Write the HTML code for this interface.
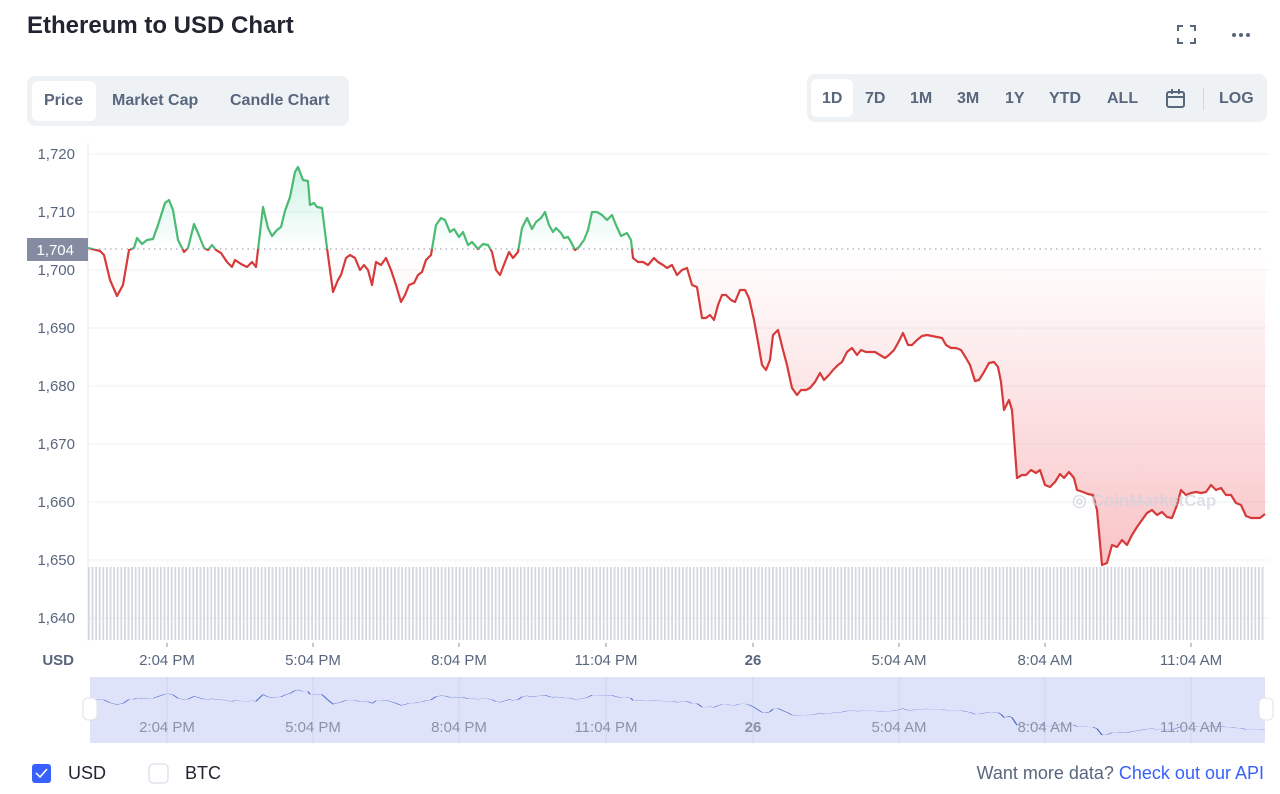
<!DOCTYPE html>
<html><head><meta charset="utf-8"><style>
body{margin:0;width:1280px;height:794px;background:#fff;font-family:"Liberation Sans",sans-serif;position:relative;overflow:hidden;color:#222531}
.a{position:absolute;white-space:nowrap}
.tab{position:absolute;top:76px;height:50px;background:#eff2f5;border-radius:8px}
.t{position:absolute;font-size:16px;color:#58667e;font-weight:bold}
</style></head><body>
<div class="a" style="left:27px;top:12px;font-size:24px;font-weight:bold;color:#222531">Ethereum to USD Chart</div>
<svg class="a" style="left:1176px;top:24px" width="80" height="22"><path d="M2 7V2h5M14 2h5v5M19 14v5h-5M7 19H2v-5" stroke="#58667e" stroke-width="2" fill="none"/><circle cx="58" cy="11" r="2" fill="#58667e"/><circle cx="65" cy="11" r="2" fill="#58667e"/><circle cx="72" cy="11" r="2" fill="#58667e"/></svg>
<div class="tab" style="left:27px;width:322px"></div>
<div class="a" style="left:32px;top:81px;width:64px;height:40px;background:#fff;border-radius:6px"></div>
<div class="t" style="left:44px;top:92px;color:#58667e">Price</div>
<div class="t" style="left:112px;top:92px">Market Cap</div>
<div class="t" style="left:230px;top:92px">Candle Chart</div>
<div class="tab" style="left:807px;top:74px;width:460px;height:48px"></div>
<div class="a" style="left:811px;top:79px;width:42px;height:38px;background:#fff;border-radius:6px"></div>
<div class="t" style="left:822px;top:90px">1D</div>
<div class="t" style="left:865px;top:90px">7D</div>
<div class="t" style="left:910px;top:90px">1M</div>
<div class="t" style="left:957px;top:90px">3M</div>
<div class="t" style="left:1005px;top:90px">1Y</div>
<div class="t" style="left:1049px;top:90px">YTD</div>
<div class="t" style="left:1107px;top:90px">ALL</div>
<svg class="a" style="left:1165px;top:88px" width="22" height="22"><rect x="2" y="4" width="17" height="15" rx="2" stroke="#58667e" stroke-width="2" fill="none"/><path d="M2 9h17M7 1v5M14 1v5" stroke="#58667e" stroke-width="2"/></svg>
<div class="a" style="left:1203px;top:88px;width:1px;height:22px;background:#cfd6e4"></div>
<div class="t" style="left:1219px;top:90px">LOG</div>

<svg class="a" style="left:0;top:0" width="1280" height="794">
<defs>
<polyline id="p" points="88,248 100,251 104,255 110,280 117,296 123,285 129,250 134,248 137,238 142,244 147,240 153,239 158,225 165,203 169,200 173,210 178,240 184,252 188,248 194,224 198,233 204,248 208,250 212,245 216,250 221,253 227,262 232,267 235,260 241,264 247,267 252,262 256,267 263,207 268,228 272,236 277,230 281,227 285,211 290,197 295,172 298,167 303,180 308,181 310,205 314,203 317,207 322,208 327,248 333,292 338,280 341,275 346,258 350,255 355,258 360,270 364,265 368,270 372,285 376,262 381,265 386,258 391,270 396,285 401,302 405,295 409,285 414,283 418,275 422,272 426,260 431,255 436,225 441,218 445,220 450,232 454,229 459,237 463,232 468,245 472,242 478,249 483,244 488,245 492,252 496,270 500,275 505,262 509,252 513,258 518,252 522,228 527,218 532,229 536,222 541,218 545,212 549,225 553,232 556,228 561,233 564,238 568,237 571,242 575,250 579,247 584,240 588,230 592,212 597,212 602,215 607,220 612,215 616,225 621,236 627,233 631,240 633,258 638,262 643,262 648,265 654,258 658,262 663,265 667,268 672,265 677,275 682,270 687,268 692,285 697,287 702,318 706,318 710,315 714,320 718,305 722,295 726,295 731,300 735,302 740,290 745,290 749,298 754,320 758,342 762,365 766,370 770,360 773,335 778,330 783,350 787,365 792,388 797,395 801,390 806,390 810,388 815,382 820,373 824,380 829,375 833,370 838,365 842,362 847,352 852,348 857,355 861,350 866,352 870,352 875,352 880,355 885,358 889,355 894,350 898,343 903,333 908,345 912,345 917,340 922,336 927,335 932,336 937,337 942,338 946,345 951,348 956,348 961,350 966,358 970,365 975,381 979,380 984,372 989,363 994,362 998,367 1001,382 1004,410 1009,400 1012,410 1017,478 1022,475 1026,475 1031,470 1036,473 1040,470 1045,485 1050,487 1055,482 1060,474 1064,478 1069,472 1074,478 1077,490 1083,492 1088,494 1093,495 1097,510 1102,565 1107,563 1112,545 1117,547 1122,540 1127,545 1132,535 1137,527 1142,520 1147,513 1152,510 1157,515 1162,512 1167,517 1172,518 1177,505 1181,490 1186,495 1191,493 1196,492 1201,493 1206,492 1211,485 1216,490 1221,488 1226,495 1231,495 1236,503 1241,505 1246,516 1251,518 1256,518 1260,518 1265,514"/>
<clipPath id="up"><rect x="88" y="140" width="1180" height="109"/></clipPath>
<clipPath id="dn"><rect x="88" y="249" width="1180" height="330"/></clipPath>
<linearGradient id="gg" x1="0" y1="165" x2="0" y2="249" gradientUnits="userSpaceOnUse"><stop offset="0" stop-color="#16c784" stop-opacity=".22"/><stop offset="1" stop-color="#16c784" stop-opacity="0"/></linearGradient>
<linearGradient id="rg" x1="0" y1="249" x2="0" y2="565" gradientUnits="userSpaceOnUse"><stop offset="0" stop-color="#ea3943" stop-opacity="0"/><stop offset="1" stop-color="#ea3943" stop-opacity=".3"/></linearGradient>
<pattern id="vb" x="88" y="0" width="3.6" height="10" patternUnits="userSpaceOnUse"><rect x="0" y="0" width="1.8" height="10" fill="#d3d7df"/></pattern>
</defs>
<g stroke="#eff2f5" stroke-width="1">
<line x1="88" y1="154" x2="1268" y2="154"/><line x1="88" y1="212" x2="1268" y2="212"/><line x1="88" y1="270" x2="1268" y2="270"/><line x1="88" y1="328" x2="1268" y2="328"/><line x1="88" y1="386" x2="1268" y2="386"/><line x1="88" y1="444" x2="1268" y2="444"/><line x1="88" y1="502" x2="1268" y2="502"/><line x1="88" y1="560" x2="1268" y2="560"/><line x1="88" y1="618" x2="1268" y2="618"/>
</g>
<line x1="88" y1="143" x2="88" y2="641" stroke="#e6e8ee"/>
<rect x="88" y="567" width="1177" height="73" fill="url(#vb)"/>
<!-- fill: polyline + baseline closing via a path built from the same element -->
<mask id="mk" maskUnits="userSpaceOnUse" x="0" y="0" width="1280" height="794">
<rect x="0" y="0" width="1280" height="794" fill="#000"/>
<use href="#p" fill="#fff" stroke="none"/>
</mask>
<g clip-path="url(#up)"><polygon points="88,248 1265,248 1265,140 88,140" fill="none"/></g>
<g id="fills"></g>
<g clip-path="url(#dn)"><use href="#p" fill="none" stroke="#d63a3a" stroke-width="2.2" stroke-linejoin="round"/></g>
<g clip-path="url(#up)"><use href="#p" fill="none" stroke="#4bba73" stroke-width="2.2" stroke-linejoin="round"/></g>
<line x1="88" y1="249" x2="1265" y2="249" stroke="#8c93a6" stroke-dasharray="1.5,4"/>
<text x="1072" y="506" font-size="17" fill="#cfd3dc" opacity=".7" font-family="Liberation Sans,sans-serif" font-weight="bold">◎ CoinMarketCap</text>
<rect x="27" y="238" width="61" height="23" fill="#858ca2"/>
<text x="74" y="255" font-size="15" fill="#fff" text-anchor="end">1,704</text>
<g font-size="15" fill="#58667e" text-anchor="end" font-family="Liberation Sans,sans-serif">
<text x="75" y="159">1,720</text><text x="75" y="217">1,710</text><text x="75" y="275">1,700</text><text x="75" y="333">1,690</text><text x="75" y="391">1,680</text><text x="75" y="449">1,670</text><text x="75" y="507">1,660</text><text x="75" y="565">1,650</text><text x="75" y="623">1,640</text>
<text x="74" y="665" font-weight="bold">USD</text>
</g>
<g stroke="#8c93a6"><line x1="167" y1="643" x2="167" y2="647"/><line x1="313" y1="643" x2="313" y2="647"/><line x1="459" y1="643" x2="459" y2="647"/><line x1="606" y1="643" x2="606" y2="647"/><line x1="753" y1="643" x2="753" y2="647"/><line x1="899" y1="643" x2="899" y2="647"/><line x1="1045" y1="643" x2="1045" y2="647"/><line x1="1191" y1="643" x2="1191" y2="647"/></g>
<g font-size="15" fill="#58667e" text-anchor="middle">
<text x="167" y="665">2:04 PM</text><text x="313" y="665">5:04 PM</text><text x="459" y="665">8:04 PM</text><text x="606" y="665">11:04 PM</text><text x="753" y="665" font-weight="bold">26</text><text x="899" y="665">5:04 AM</text><text x="1045" y="665">8:04 AM</text><text x="1191" y="665">11:04 AM</text>
</g>
<rect x="90" y="677" width="1175" height="66" fill="#dfe3fa"/>
<g stroke="#cfd4ee"><line x1="167" y1="677" x2="167" y2="743"/><line x1="313" y1="677" x2="313" y2="743"/><line x1="459" y1="677" x2="459" y2="743"/><line x1="606" y1="677" x2="606" y2="743"/><line x1="753" y1="677" x2="753" y2="743"/><line x1="899" y1="677" x2="899" y2="743"/><line x1="1045" y1="677" x2="1045" y2="743"/><line x1="1191" y1="677" x2="1191" y2="743"/></g>
<g transform="translate(0,690) scale(1,0.113) translate(0,-167)"><use href="#p" fill="none" stroke="#4a66c9" stroke-width="1.5" vector-effect="non-scaling-stroke"/></g>
<g font-size="15" fill="#8c93a6" text-anchor="middle">
<text x="167" y="732">2:04 PM</text><text x="313" y="732">5:04 PM</text><text x="459" y="732">8:04 PM</text><text x="606" y="732">11:04 PM</text><text x="753" y="732" font-weight="bold">26</text><text x="899" y="732">5:04 AM</text><text x="1045" y="732">8:04 AM</text><text x="1191" y="732">11:04 AM</text>
</g>
<rect x="83" y="698" width="14" height="22" rx="5" fill="#fff" stroke="#dfe2e8"/>
<rect x="1259" y="698" width="14" height="22" rx="5" fill="#fff" stroke="#dfe2e8"/>
<rect x="32" y="764" width="19" height="19" rx="3" fill="#3861fb"/>
<path d="M36 773l4 4 7-8" stroke="#fff" stroke-width="1.5" fill="none"/>
<rect x="149" y="764" width="19" height="19" rx="4" fill="#fff" stroke="#cfd6e4"/>
</svg>
<script>
(function(){
var p=document.getElementById('p').getAttribute('points');
var ns='http://www.w3.org/2000/svg',g=document.getElementById('fills');
[['up','url(#gg)'],['dn','url(#rg)']].forEach(function(a){
var w=document.createElementNS(ns,'g');w.setAttribute('clip-path','url(#'+a[0]+')');
var q=document.createElementNS(ns,'polygon');q.setAttribute('points',p+' 1265,249 88,249');q.setAttribute('fill',a[1]);
w.appendChild(q);g.appendChild(w);});
})();
</script>
<div class="a" style="left:68px;top:763px;font-size:18px;color:#222531">USD</div>
<div class="a" style="left:185px;top:763px;font-size:18px;color:#222531">BTC</div>
<div class="a" style="right:16px;top:763px;font-size:18px;color:#58667e">Want more data? <span style="color:#3861fb">Check out our API</span></div>
</body></html>
